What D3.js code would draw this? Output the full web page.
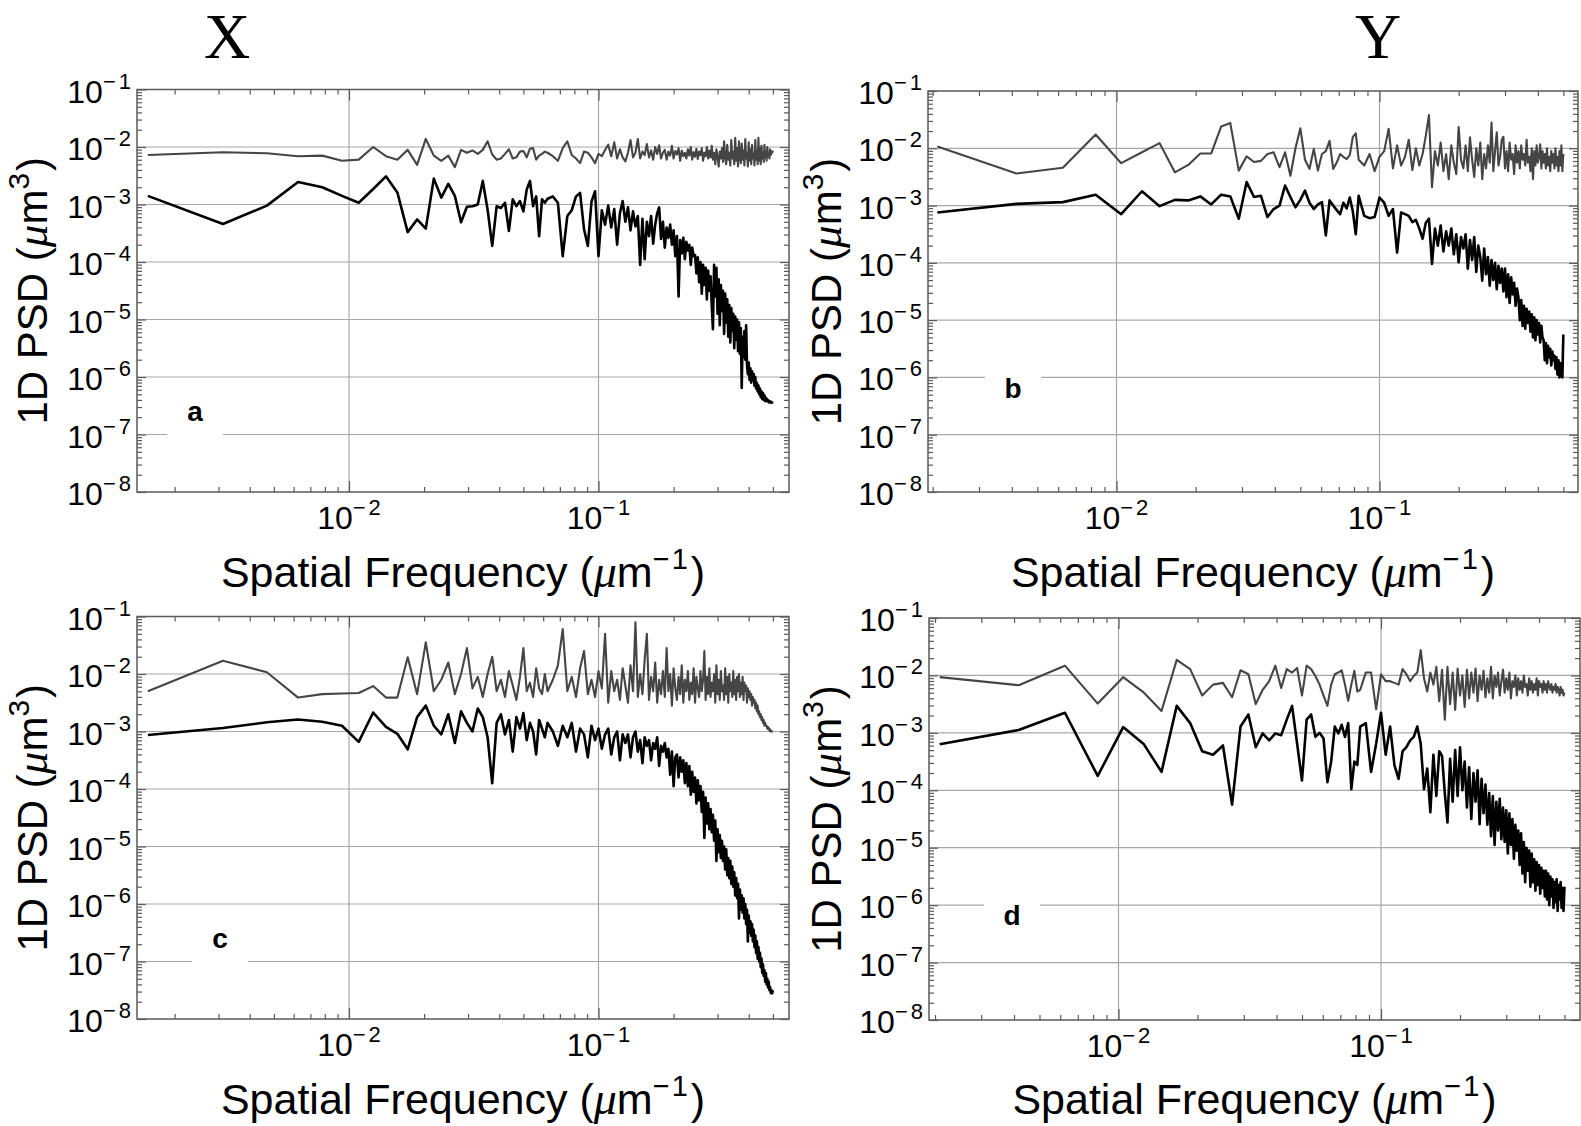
<!DOCTYPE html>
<html>
<head>
<meta charset="utf-8">
<script src="https://cdn.jsdelivr.net/npm/d3@7"></script>
<style>
  html, body { margin: 0; padding: 0; background: #fff; }
  svg { display: block; font-family: 'Liberation Sans', Arial, Helvetica, sans-serif; }
</style>
</head>
<body>
<svg id="chart" width="1581" height="1126"></svg>
<script>
// FFT bin spacing (um^-1) of the X and Y profiles
const dfX = 1 / 640
const dfY = 1 / 480

// bin indices: every bin at low frequency, every other bin above k = 40
const binsX = d3.range(1, 41).concat(d3.range(42, 321, 2))
const binsY = d3.range(1, 41).concat(d3.range(42, 241, 2))

// log10 PSD (um^3). gray = upper curve, black = lower curve
const grayA = [
  -2.14, -2.09, -2.11, -2.16, -2.15, -2.24, -2.22, -2.00, -2.16, -2.22, -2.05, -2.31, -1.86, -2.15, -2.24, -2.15, -2.35, -2.05,
  -2.10, -2.06, -2.12, -2.05, -1.90, -2.13, -2.22, -2.20, -2.12, -2.04, -2.20, -2.18, -2.08, -2.07, -2.18, -2.03, -2.02, -2.22, -2.15, -2.12, -2.08, -2.10,
  -2.16, -2.24, -2.02, -1.90, -2.14, -2.20, -2.28, -2.08, -2.10, -2.18,
  -2.28, -2.12, -2.16, -2.05, -1.96, -2.16, -1.92, -2.20, -2.04, -2.18,
  -2.25, -2.10, -1.88, -2.18, -2.10, -1.86, -2.20, -2.08, -2.14, -1.95,
  -2.18, -2.06, -2.22, -2.00, -2.12, -1.97, -2.20, -2.10, -2.05, -2.22,
  -2.08, -2.15, -1.98, -2.20, -2.07, -2.13, -2.02, -2.24, -2.06, -2.16,
  -2.10, -2.20, -2.04, -2.15, -2.00, -2.22, -2.09, -2.17, -2.03, -2.21,
  -2.08, -2.14, -2.02, -2.24, -2.10, -2.16, -2.00, -2.20, -2.06, -2.18,
  -1.98, -2.22, -2.10, -2.30, -2.04, -2.16, -2.34, -2.08, -2.20, -2.02,
  -2.26, -1.90, -2.18, -2.30, -1.96, -2.22, -2.10, -2.32, -1.88, -2.20,
  -2.08, -2.30, -1.84, -2.24, -2.02, -2.34, -1.90, -2.18, -2.28, -1.94,
  -2.22, -2.06, -2.32, -1.86, -2.20, -2.10, -2.34, -1.92, -2.24, -2.04,
  -2.30, -1.96, -2.20, -2.12, -2.32, -1.88, -2.22, -2.06, -2.30, -1.84,
  -2.24, -2.02, -2.30, -1.98, -2.20, -2.10, -2.26, -1.96, -2.18, -2.08,
  -2.24, -2.00, -2.16, -2.10, -2.20, -2.04, -2.14, -2.08, -2.10, -2.06
]
const blackA = [
  -2.85, -3.34, -3.02, -2.61, -2.70, -2.85, -2.97, -2.73, -2.51, -2.79, -3.48, -3.26, -3.42, -2.55, -2.88, -2.64, -2.85, -3.31,
  -3.04, -3.03, -3.00, -2.59, -3.09, -3.72, -3.03, -3.06, -2.97, -3.46, -2.91, -3.03, -2.94, -3.12, -2.74, -2.59, -3.03, -2.86, -3.55, -2.91, -2.97, -2.90,
  -2.86, -2.97, -3.90, -3.20, -3.10, -2.86, -2.80, -3.43, -3.72, -2.95,
  -2.77, -3.90, -3.10, -3.35, -3.02, -3.40, -3.08, -3.70, -3.15, -2.94,
  -3.30, -3.05, -3.45, -3.12, -3.38, -3.20, -4.05, -3.25, -3.95, -3.30,
  -3.55, -3.20, -3.68, -3.35, -3.15, -3.05, -3.60, -3.30, -3.75, -3.40,
  -3.58, -3.35, -3.70, -3.45, -3.90, -3.55, -4.60, -3.62, -3.85, -3.58,
  -3.95, -3.65, -3.80, -3.70, -4.05, -3.75, -3.90, -3.88, -4.20, -3.92,
  -4.35, -4.00, -4.55, -4.05, -4.40, -4.10, -4.65, -4.15, -4.50, -4.25,
  -4.75, -5.17, -4.05, -4.60, -4.10, -4.90, -4.30, -5.10, -4.40, -4.85,
  -4.50, -5.25, -4.55, -5.05, -4.65, -5.30, -4.75, -5.40, -4.80, -5.20,
  -4.90, -5.50, -4.95, -5.35, -5.00, -5.55, -5.05, -5.60, -5.15, -6.19,
  -5.30, -5.65, -5.20, -5.70, -5.10, -5.80, -5.95, -5.75, -6.05, -5.85,
  -6.10, -5.90, -6.05, -5.95, -6.15, -6.00, -6.20, -6.10, -6.25, -6.15,
  -6.30, -6.20, -6.35, -6.25, -6.38, -6.28, -6.40, -6.32, -6.42, -6.36,
  -6.38, -6.42, -6.40, -6.44, -6.42, -6.44, -6.43, -6.45, -6.44, -6.43
]
const grayB = [
  -1.97, -2.44, -2.34, -1.76, -2.26, -2.07, -1.91, -2.42, -2.29, -2.09, -2.09, -1.62, -1.56, -2.39, -2.14, -2.24,
  -2.22, -2.10, -2.07, -2.33, -2.07, -2.48, -2.00, -1.65, -2.20, -2.36, -2.01, -2.39, -2.10, -2.05,
  -1.87, -2.36, -2.25, -2.10, -2.15, -2.19, -2.12, -1.80, -1.74, -2.20,
  -2.30, -2.10, -2.40, -2.15, -2.05, -1.66, -2.35, -1.95, -2.30, -2.15,
  -1.85, -2.38, -2.00, -2.30, -2.10, -1.78, -1.42, -2.68, -2.05, -2.30,
  -1.90, -2.40, -2.10, -2.54, -1.95, -2.25, -2.45, -1.63, -2.20, -2.35,
  -1.95, -2.40, -1.81, -2.20, -2.50, -2.00, -2.30, -1.90, -2.54, -2.10,
  -2.35, -1.95, -2.25, -1.55, -2.40, -2.05, -1.72, -2.30, -2.15, -1.85,
  -1.80, -2.35, -2.05, -2.40, -1.90, -2.20, -2.10, -2.45, -1.95, -2.25,
  -2.05, -2.35, -1.95, -2.20, -2.10, -2.30, -1.85, -2.25, -2.15, -2.40,
  -2.00, -2.54, -2.05, -2.30, -1.95, -2.25, -2.15, -1.93, -2.35, -2.05,
  -2.25, -2.10, -2.35, -2.00, -2.30, -2.15, -2.40, -2.05, -2.25, -2.10,
  -2.35, -2.00, -2.30, -2.15, -2.40, -2.05, -2.30, -1.95, -2.40, -2.10
]
const blackB = [
  -3.12, -2.97, -2.94, -2.81, -3.15, -2.75, -3.01, -2.90, -2.91, -2.84, -2.98, -2.81, -2.84, -3.23, -2.59, -2.85,
  -2.83, -3.20, -3.06, -3.00, -2.65, -2.85, -3.03, -2.90, -2.74, -2.95, -3.06, -2.98, -2.94, -3.52, -2.91, -3.00, -3.08, -3.15, -2.95, -3.05, -2.86, -3.10, -3.50, -2.83,
  -3.18, -3.22, -3.20, -2.86, -2.95, -3.18, -3.06, -3.82, -3.12, -3.15,
  -3.18, -3.29, -3.25, -3.40, -3.58, -3.30, -3.23, -4.02, -3.40, -3.70,
  -3.35, -3.80, -3.45, -3.70, -3.40, -3.85, -3.50, -3.99, -3.55, -3.75,
  -3.50, -4.10, -3.60, -3.95, -3.55, -4.16, -3.70, -3.90, -4.31, -3.75,
  -4.20, -3.90, -4.40, -3.95, -4.30, -4.00, -4.46, -4.05, -4.35, -4.10,
  -4.50, -4.10, -4.60, -4.20, -4.70, -4.25, -4.55, -4.35, -4.75, -4.45,
  -4.60, -5.00, -4.65, -5.10, -4.75, -5.15, -4.80, -5.05, -4.85, -5.20,
  -4.90, -5.30, -4.95, -5.35, -5.00, -5.25, -5.05, -5.39, -5.10, -5.30,
  -5.35, -5.70, -5.40, -5.75, -5.45, -5.65, -5.50, -5.79, -5.55, -5.70,
  -5.62, -5.85, -5.65, -5.95, -5.70, -6.00, -5.75, -5.95, -6.00, -5.25
]
const grayC = [
  -2.30, -1.77, -1.97, -2.41, -2.35, -2.34, -2.33, -2.21, -2.41, -2.41, -1.71, -2.35,
  -1.45, -2.30, -2.10, -1.80, -2.35, -2.00, -1.55, -2.25, -2.05, -2.40, -2.00, -1.70, -2.30, -2.10,
  -2.40, -1.95, -2.20, -2.45, -2.05, -1.55, -2.30, -2.15, -2.40, -1.90, -2.25, -2.35, -2.00, -2.30,
  -2.10, -1.85, -1.22, -2.30, -2.05, -2.40, -1.90, -1.60, -2.35, -2.10,
  -2.40, -1.95, -2.25, -1.30, -2.50, -1.95, -2.30, -2.10, -2.45, -1.90,
  -2.20, -2.50, -1.85, -2.30, -1.10, -2.40, -2.00, -2.35, -1.75, -1.30,
  -2.45, -2.05, -2.30, -1.80, -2.50, -2.10, -2.35, -1.95, -2.40, -1.55,
  -2.30, -2.00, -2.55, -1.90, -2.25, -2.45, -2.05, -2.35, -1.85, -2.50,
  -2.10, -2.30, -1.95, -2.45, -2.15, -2.35, -1.90, -2.50, -2.05, -2.25,
  -2.40, -1.95, -2.30, -2.10, -1.60, -2.45, -2.05, -2.35, -1.90, -2.40,
  -2.15, -2.30, -2.00, -2.50, -1.85, -2.35, -2.10, -2.45, -1.95, -2.30,
  -2.20, -2.45, -1.90, -2.35, -2.05, -2.50, -2.00, -2.30, -2.15, -2.40,
  -1.95, -2.35, -2.10, -2.45, -2.05, -2.30, -2.00, -2.40, -2.15, -2.35,
  -2.05, -2.45, -2.15, -2.30, -2.20, -2.50, -2.25, -2.40, -2.30, -2.45,
  -2.35, -2.55, -2.40, -2.50, -2.45, -2.60, -2.50, -2.65, -2.55, -2.70,
  -2.65, -2.75, -2.70, -2.80, -2.75, -2.85, -2.80, -2.90, -2.85, -2.90,
  -2.90, -2.95, -2.92, -2.97, -2.95, -3.00, -2.98, -3.00, -3.00, -3.00
]
const blackC = [
  -3.06, -2.94, -2.84, -2.79, -2.83, -2.90, -3.18, -2.67, -2.92, -3.04, -3.31,
  -2.75, -2.55, -2.90, -3.05, -2.70, -3.20, -2.65, -2.85, -3.00, -2.60, -2.75, -3.10, -3.90, -2.85,
  -2.70, -3.05, -2.80, -3.35, -2.75, -2.95, -2.68, -3.15, -2.85, -3.00, -3.40, -2.80, -2.95, -3.10, -2.85,
  -3.00, -3.25, -2.90, -3.10, -2.85, -3.35, -2.95, -3.05, -3.45, -2.90,
  -3.15, -2.95, -3.30, -3.05, -2.95, -3.40, -3.10, -3.00, -3.50, -3.05,
  -3.20, -3.05, -3.45, -3.10, -3.00, -3.35, -3.15, -3.55, -3.10, -3.25,
  -3.15, -3.50, -3.20, -3.30, -3.10, -3.60, -3.25, -3.35, -3.20, -3.45,
  -3.30, -3.75, -3.35, -3.95, -3.45, -3.40, -3.80, -3.45, -3.70, -3.50,
  -3.90, -3.55, -3.95, -3.60, -4.10, -3.70, -4.05, -3.80, -4.25, -3.85,
  -4.20, -3.95, -4.40, -4.05, -4.85, -4.15, -4.60, -4.25, -4.70, -4.35,
  -4.75, -4.45, -4.90, -4.55, -5.25, -4.70, -5.10, -4.80, -5.20, -4.90,
  -5.25, -5.00, -5.40, -5.05, -5.50, -5.20, -5.55, -5.25, -5.65, -5.35,
  -5.70, -5.45, -5.85, -5.55, -5.90, -5.65, -6.25, -5.75, -6.10, -5.85,
  -6.15, -5.90, -6.25, -6.00, -6.35, -6.10, -6.65, -6.20, -6.50, -6.30,
  -6.55, -6.35, -6.65, -6.45, -6.75, -6.55, -6.85, -6.65, -6.95, -6.75,
  -7.00, -6.85, -7.10, -6.95, -7.20, -7.05, -7.25, -7.15, -7.35, -7.20,
  -7.40, -7.30, -7.45, -7.35, -7.50, -7.45, -7.55, -7.50, -7.55, -7.50
]
const grayD = [
  -2.03, -2.17, -1.83, -2.49, -2.03, -2.30, -2.62, -1.73, -1.89, -2.35,
  -2.16, -2.13, -2.38, -1.91, -1.98, -2.50, -2.25, -2.10, -1.83, -2.22,
  -1.89, -1.95, -1.87, -2.35, -1.83, -1.89, -2.01, -2.16, -2.35, -2.53,
  -2.16, -1.98, -1.95, -1.91, -2.16, -2.44, -2.16, -1.92, -2.28, -2.25,
  -1.95, -1.95, -2.59, -1.98, -2.10, -2.10, -2.13, -2.16, -1.89, -1.98,
  -2.10, -2.01, -1.95, -1.56, -2.05, -2.28, -1.95, -2.16, -1.85, -2.45,
  -1.90, -2.77, -1.85, -2.50, -1.95, -2.60, -1.88, -2.35, -2.00, -2.55,
  -1.90, -2.40, -1.95, -2.30, -1.88, -2.45, -2.00, -2.25, -1.92, -2.38,
  -2.05, -2.30, -1.85, -2.40, -2.00, -2.20, -1.95, -2.35, -2.10, -1.90,
  -2.30, -2.05, -2.25, -1.95, -2.40, -2.10, -2.20, -2.00, -2.35, -2.05,
  -2.25, -2.10, -2.30, -2.00, -2.20, -2.15, -2.35, -2.05, -2.25, -2.10,
  -2.30, -2.15, -2.25, -2.05, -2.35, -2.10, -2.20, -2.15, -2.30, -2.10,
  -2.25, -2.15, -2.30, -2.10, -2.20, -2.25, -2.15, -2.30, -2.20, -2.25,
  -2.15, -2.30, -2.20, -2.25, -2.35, -2.20, -2.30, -2.25, -2.35, -2.30
]
const blackD = [
  -3.20, -2.95, -2.65, -3.75, -2.90, -3.20, -3.68, -2.53, -2.83, -3.32,
  -3.38, -3.22, -4.25, -2.89, -2.68, -3.25, -3.01, -3.13, -3.01, -3.04,
  -2.77, -2.53, -3.19, -3.83, -2.77, -2.68, -3.07, -3.00, -3.10, -3.86,
  -3.50, -2.89, -3.01, -2.86, -3.07, -2.83, -3.98, -3.50, -3.56, -2.89,
  -2.83, -3.68, -3.19, -2.65, -3.38, -2.89, -3.56, -3.80, -3.32, -3.25,
  -3.13, -3.07, -2.89, -3.19, -3.98, -3.62, -4.38, -3.38, -4.10, -3.32,
  -3.40, -4.05, -4.56, -3.45, -4.20, -3.30, -4.10, -3.25, -4.00, -3.50,
  -4.30, -3.60, -4.50, -3.70, -4.20, -3.65, -4.59, -3.80, -4.40, -3.90,
  -4.60, -4.05, -4.80, -4.10, -4.95, -4.20, -4.70, -4.15, -4.85, -4.30,
  -4.90, -4.35, -5.10, -4.40, -4.95, -4.50, -5.19, -4.60, -5.05, -4.70,
  -5.30, -4.75, -5.45, -4.90, -5.60, -5.00, -5.40, -5.05, -5.68, -5.10,
  -5.60, -5.20, -5.75, -5.25, -5.65, -5.30, -5.80, -5.35, -5.70, -5.40,
  -5.85, -5.40, -5.90, -5.45, -6.00, -5.50, -5.85, -5.55, -6.05, -5.60,
  -5.95, -5.55, -6.10, -5.65, -5.90, -5.60, -6.05, -5.70, -6.10, -5.68
]

const columnTitles = ['X', 'Y']
const yDecades = [-8, -7, -6, -5, -4, -3, -2, -1]

// panel geometry (px): box edges, and where 1e-2 / 1e-1 fall on x
const panels = [
  { label: 'a', gray: grayA, black: blackA, bins: binsX, df: dfX,
    left: 137, right: 789, top: 89.5, bottom: 492, x2: 349, x1: 598.5,
    labX: 195, labY: 421, yTitleX: 47, xTitleY: 587 },
  { label: 'b', gray: grayB, black: blackB, bins: binsY, df: dfY,
    left: 928, right: 1578, top: 91, bottom: 492, x2: 1116.5, x1: 1379.5,
    labX: 1013, labY: 398, yTitleX: 841, xTitleY: 587 },
  { label: 'c', gray: grayC, black: blackC, bins: binsX, df: dfX,
    left: 137, right: 789, top: 616.5, bottom: 1019, x2: 349, x1: 598.5,
    labX: 220, labY: 948, yTitleX: 47, xTitleY: 1114 },
  { label: 'd', gray: grayD, black: blackD, bins: binsY, df: dfY,
    left: 929, right: 1580, top: 618, bottom: 1020, x2: 1118.5, x1: 1381,
    labX: 1012, labY: 925, yTitleX: 841, xTitleY: 1114 },
]

const svg = d3.select('#chart')
svg.append('rect').attr('width', 1581).attr('height', 1126).attr('fill', '#fff')

const MINUS = '\u2212'
const AXIS_COLOR = '#5a5a5a'
const GRID_COLOR = '#a8a8a8'
const SERIF = "'Liberation Serif', 'Times New Roman', serif"

// column titles
svg.selectAll('text.col-title')
  .data(columnTitles)
  .join('text')
  .attr('class', 'col-title')
  .attr('x', (d, i) => (i === 0 ? 227 : 1378))
  .attr('y', 58)
  .attr('text-anchor', 'middle')
  .attr('font-family', SERIF)
  .attr('font-size', 64)
  .text((d) => d)

panels.forEach(drawPanel)

// "10" with a raised -n
function powerLabel(sel, d) {
  const n = Math.round(-Math.log10(d))
  sel.append('tspan').text('10')
  sel.append('tspan').attr('dy', -14).attr('font-size', 22).text(MINUS)
  sel.append('tspan').attr('dx', 3).attr('font-size', 22).text(n)
}

function drawPanel(p) {
  const x = d3.scaleLog().domain([0.01, 0.1]).range([p.x2, p.x1])
  const y = d3.scaleLog().domain([1e-8, 1e-1]).range([p.bottom, p.top])
  const g = svg.append('g')

  const inX = (v) => {
    const px = x(v)
    return px >= p.left - 0.5 && px <= p.right + 0.5
  }
  const xMajor = [-3, -2, -1, 0].map((e) => Math.pow(10, e)).filter(inX)
  const xMinor = []
  for (let e = -3; e <= 0; e++) {
    for (let m = 2; m <= 9; m++) {
      const v = m * Math.pow(10, e)
      if (inX(v)) xMinor.push(v)
    }
  }
  const yMajor = yDecades.map((e) => Math.pow(10, e))
  const yMinor = []
  for (let e = -8; e <= -2; e++) {
    for (let m = 2; m <= 9; m++) yMinor.push(m * Math.pow(10, e))
  }

  // grid
  g.append('g')
    .selectAll('line')
    .data(xMajor)
    .join('line')
    .attr('x1', (d) => x(d)).attr('x2', (d) => x(d))
    .attr('y1', p.top).attr('y2', p.bottom)
    .attr('stroke', GRID_COLOR).attr('stroke-width', 1.2)
  g.append('g')
    .selectAll('line')
    .data(yMajor.slice(1, -1))
    .join('line')
    .attr('x1', p.left).attr('x2', p.right)
    .attr('y1', (d) => y(d)).attr('y2', (d) => y(d))
    .attr('stroke', GRID_COLOR).attr('stroke-width', 1.2)

  // panel letter sits on a white patch over the grid
  g.append('rect')
    .attr('x', p.labX - 28).attr('y', p.labY - 34)
    .attr('width', 56).attr('height', 48)
    .attr('fill', '#fff')
  g.append('text')
    .attr('x', p.labX).attr('y', p.labY)
    .attr('text-anchor', 'middle')
    .attr('font-size', 28).attr('font-weight', 'bold')
    .text(p.label)

  // inward ticks on all four sides
  const ticks = (axisFn, scale, values, size, transform) => {
    g.append('g')
      .attr('transform', transform)
      .call(axisFn(scale).tickValues(values).tickSizeInner(size).tickSizeOuter(0).tickFormat(''))
      .call((s) => s.select('.domain').remove())
      .call((s) => s.selectAll('line').attr('stroke', AXIS_COLOR).attr('stroke-width', 1.2))
  }
  ticks(d3.axisBottom, x, xMinor, -5, `translate(0,${p.bottom})`)
  ticks(d3.axisBottom, x, xMajor, -11, `translate(0,${p.bottom})`)
  ticks(d3.axisTop, x, xMinor, -5, `translate(0,${p.top})`)
  ticks(d3.axisTop, x, xMajor, -11, `translate(0,${p.top})`)
  ticks(d3.axisLeft, y, yMinor, -5, `translate(${p.left},0)`)
  ticks(d3.axisLeft, y, yMajor, -9, `translate(${p.left},0)`)
  ticks(d3.axisRight, y, yMinor, -5, `translate(${p.right},0)`)
  ticks(d3.axisRight, y, yMajor, -9, `translate(${p.right},0)`)

  // data
  const line = d3.line().x((d) => x(d.f)).y((d) => y(d.psd))
  const series = [
    { vals: p.gray, color: '#454545', width: 2.1 },
    { vals: p.black, color: '#000', width: 2.6 },
  ]
  series.forEach((s) => {
    const pts = s.vals.map((v, i) => ({ f: p.bins[i] * p.df, psd: Math.pow(10, v) }))
    g.append('path')
      .datum(pts)
      .attr('fill', 'none')
      .attr('stroke', s.color)
      .attr('stroke-width', s.width)
      .attr('stroke-linejoin', 'round')
      .attr('d', line)
  })

  // box
  g.append('rect')
    .attr('x', p.left).attr('y', p.top)
    .attr('width', p.right - p.left).attr('height', p.bottom - p.top)
    .attr('fill', 'none').attr('stroke', AXIS_COLOR).attr('stroke-width', 1.5)

  // y tick labels
  g.append('g')
    .selectAll('text')
    .data(yMajor)
    .join('text')
    .attr('x', p.left - 6)
    .attr('y', (d) => y(d) + 13)
    .attr('text-anchor', 'end')
    .attr('font-size', 32)
    .each(function (d) { powerLabel(d3.select(this), d) })

  // x tick labels
  g.append('g')
    .selectAll('text')
    .data(xMajor)
    .join('text')
    .attr('x', (d) => x(d))
    .attr('y', p.bottom + 37)
    .attr('text-anchor', 'middle')
    .attr('font-size', 32)
    .each(function (d) { powerLabel(d3.select(this), d) })

  // axis titles
  const xt = g.append('text')
    .attr('x', (p.left + p.right) / 2)
    .attr('y', p.xTitleY)
    .attr('text-anchor', 'middle')
    .attr('font-size', 43)
  xt.append('tspan').text('Spatial Frequency (')
  xt.append('tspan').attr('font-family', SERIF).attr('font-style', 'italic').attr('font-size', 46).text('\u03bc')
  xt.append('tspan').text('m')
  xt.append('tspan').attr('dy', -18).attr('font-size', 29).text(MINUS)
  xt.append('tspan').attr('dx', 2).attr('font-size', 29).text('1')
  xt.append('tspan').attr('dx', 3).attr('dy', 18).text(')')

  const yt = g.append('text')
    .attr('transform', `translate(${p.yTitleX},${(p.top + p.bottom) / 2}) rotate(-90)`)
    .attr('text-anchor', 'middle')
    .attr('font-size', 42)
  yt.append('tspan').text('1D PSD (')
  yt.append('tspan').attr('font-family', SERIF).attr('font-style', 'italic').attr('font-size', 45).text('\u03bc')
  yt.append('tspan').text('m')
  yt.append('tspan').attr('dy', -18).attr('font-size', 30).text('3')
  yt.append('tspan').attr('dx', 2).attr('dy', 18).text(')')
}
</script>
</body>
</html>
